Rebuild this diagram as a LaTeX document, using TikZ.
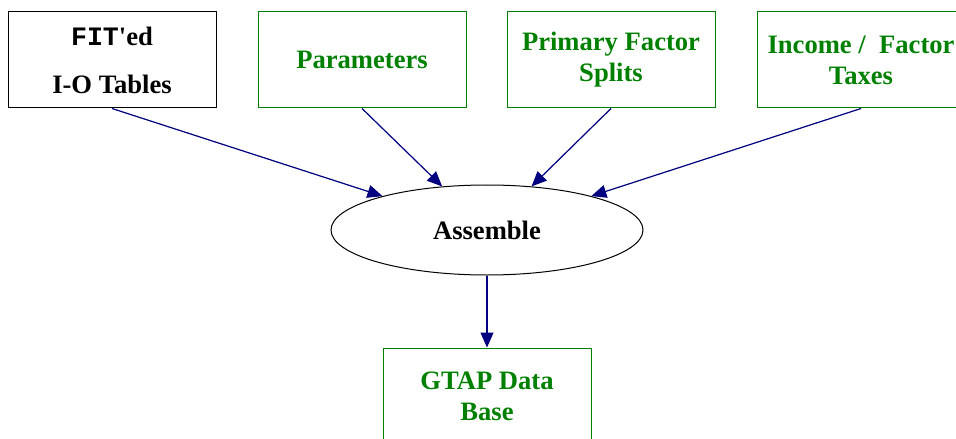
\documentclass[tikz,border=0pt]{standalone}
\usepackage{fontspec}
\setmainfont{Liberation Serif}
\setmonofont{Liberation Mono}
\usepackage{xcolor}
\usetikzlibrary{shapes, arrows.meta, positioning}
\definecolor{gtapgreen}{RGB}{0,128,0}
\definecolor{linknavy}{RGB}{0,0,128}

\begin{document}
\begin{tikzpicture}[x=0.5pt, y=-0.5pt,
    box/.style={draw, rectangle, line width=0.5pt, minimum width=104pt, minimum height=48pt,
        align=center, font=\fontsize{13.3}{15.5}\selectfont\bfseries},
    gbox/.style={box, draw=gtapgreen, text=gtapgreen},
    link/.style={-{Triangle[length=7.5pt, width=6.5pt]}, draw=linknavy, fill=linknavy, line width=0.6pt}]
            \useasboundingbox (0,0) rectangle (956,438);

            \node[box] (fit) at (112,60) {\texttt{FIT}\textquotesingle ed \\[8.5pt] I-O Tables};
            \node[gbox] (par) at (362,60) {Parameters};
            \node[gbox] (pfs) at (611,60) {Primary Factor \\ Splits};
            \node[gbox] (tax) at (861,60) {Income /\ \ Factor \\ Taxes};

            \node[draw, ellipse, line width=0.5pt, minimum width=156pt, minimum height=45pt,
                font=\fontsize{13.3}{15.5}\selectfont\bfseries] (asm) at (487,230) {Assemble};

            \node[gbox] (db) at (487,396) {GTAP Data \\ Base};

            \draw[link] (fit.south) -- (asm);
            \draw[link] (par.south) -- (asm);
            \draw[link] (pfs.south) -- (asm);
            \draw[link] (tax.south) -- (asm);
            \draw[link] (asm) -- (db);
        \end{tikzpicture}
\end{document}
